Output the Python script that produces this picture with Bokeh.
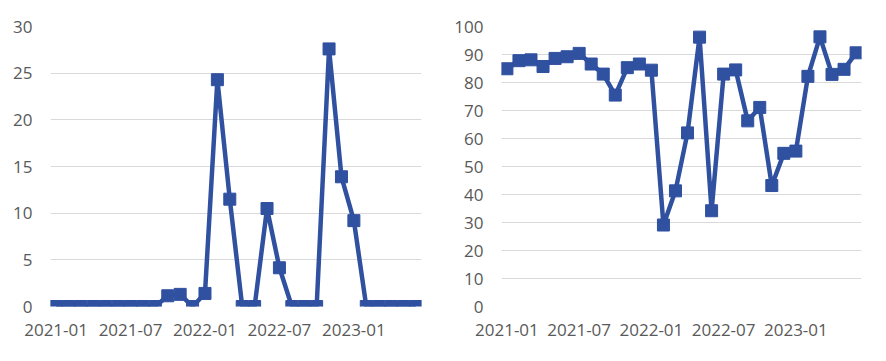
from bokeh.plotting import figure
from bokeh.layouts import row
from bokeh.models import FixedTicker, ColumnDataSource
from bokeh.embed import file_html
from bokeh.resources import INLINE

months = ["2021-01","2021-02","2021-03","2021-04","2021-05","2021-06",
          "2021-07","2021-08","2021-09","2021-10","2021-11","2021-12",
          "2022-01","2022-02","2022-03","2022-04","2022-05","2022-06",
          "2022-07","2022-08","2022-09","2022-10","2022-11","2022-12",
          "2023-01","2023-02","2023-03","2023-04","2023-05","2023-06"]
left_values = [0, 0, 0, 0, 0, 0, 0, 0, 0, 1.15, 1.3, 0,
               1.4, 24.3, 11.5, 0, 0, 10.5, 4.15, 0, 0, 0, 27.6, 13.9,
               9.2, 0, 0, 0, 0, 0]
right_values = [84.9, 87.8, 88.1, 85.7, 88.6, 89.2, 90.4, 86.6, 83.0, 75.5, 85.3, 86.6,
                84.4, 29.1, 41.3, 62.0, 96.2, 34.2, 83.0, 84.5, 66.3, 71.1, 43.2, 54.7,
                55.5, 82.2, 96.3, 82.9, 84.7, 90.6]
left_ticks = [0, 5, 10, 15, 20, 25, 30]
right_ticks = [0, 10, 20, 30, 40, 50, 60, 70, 80, 90, 100]
x_label_months = ["2021-01", "2021-07", "2022-01", "2022-07", "2023-01"]

COLOR = "#3050A0"
FONT = "Open Sans"
LABEL_COLOR = "#595959"

def make(values, yticks, ymax, width, border_left, border_right):
    xs = list(range(len(months)))
    src = ColumnDataSource(dict(x=xs, y=values))
    p = figure(width=width, height=355, output_backend="svg", toolbar_location=None,
               x_range=(-0.45, len(months) - 0.55), y_range=(0, ymax),
               min_border_left=border_left, min_border_right=border_right,
               min_border_top=26, min_border_bottom=49)
    p.outline_line_color = None
    p.line("x", "y", source=src, line_color=COLOR, line_width=4.5, line_join="round")
    p.scatter("x", "y", source=src, marker="square", size=12, fill_color=COLOR, line_color=COLOR)
    tick_idx = [months.index(m) for m in x_label_months]
    p.xaxis.ticker = FixedTicker(ticks=tick_idx)
    p.xaxis.major_label_overrides = {i: months[i] for i in tick_idx}
    p.yaxis.ticker = FixedTicker(ticks=yticks)
    for ax in (p.xaxis[0], p.yaxis[0]):
        ax.axis_line_color = None
        ax.major_tick_line_color = None
        ax.minor_tick_line_color = None
        ax.major_label_text_font = FONT
        ax.major_label_text_font_size = "17px"
        ax.major_label_text_color = LABEL_COLOR
    p.xaxis.major_label_standoff = 11
    p.yaxis.major_label_standoff = 12
    p.xgrid.grid_line_color = None
    p.ygrid.grid_line_color = "#d9d9d9"
    p.ygrid.grid_line_width = 1
    return p

p1 = make(left_values, left_ticks, 30, 443, 50, 22)
p2 = make(right_values, right_ticks, 100, 435, 58, 17)
layout = row(p1, p2)
open("out.html", "w").write(file_html(layout, INLINE))
